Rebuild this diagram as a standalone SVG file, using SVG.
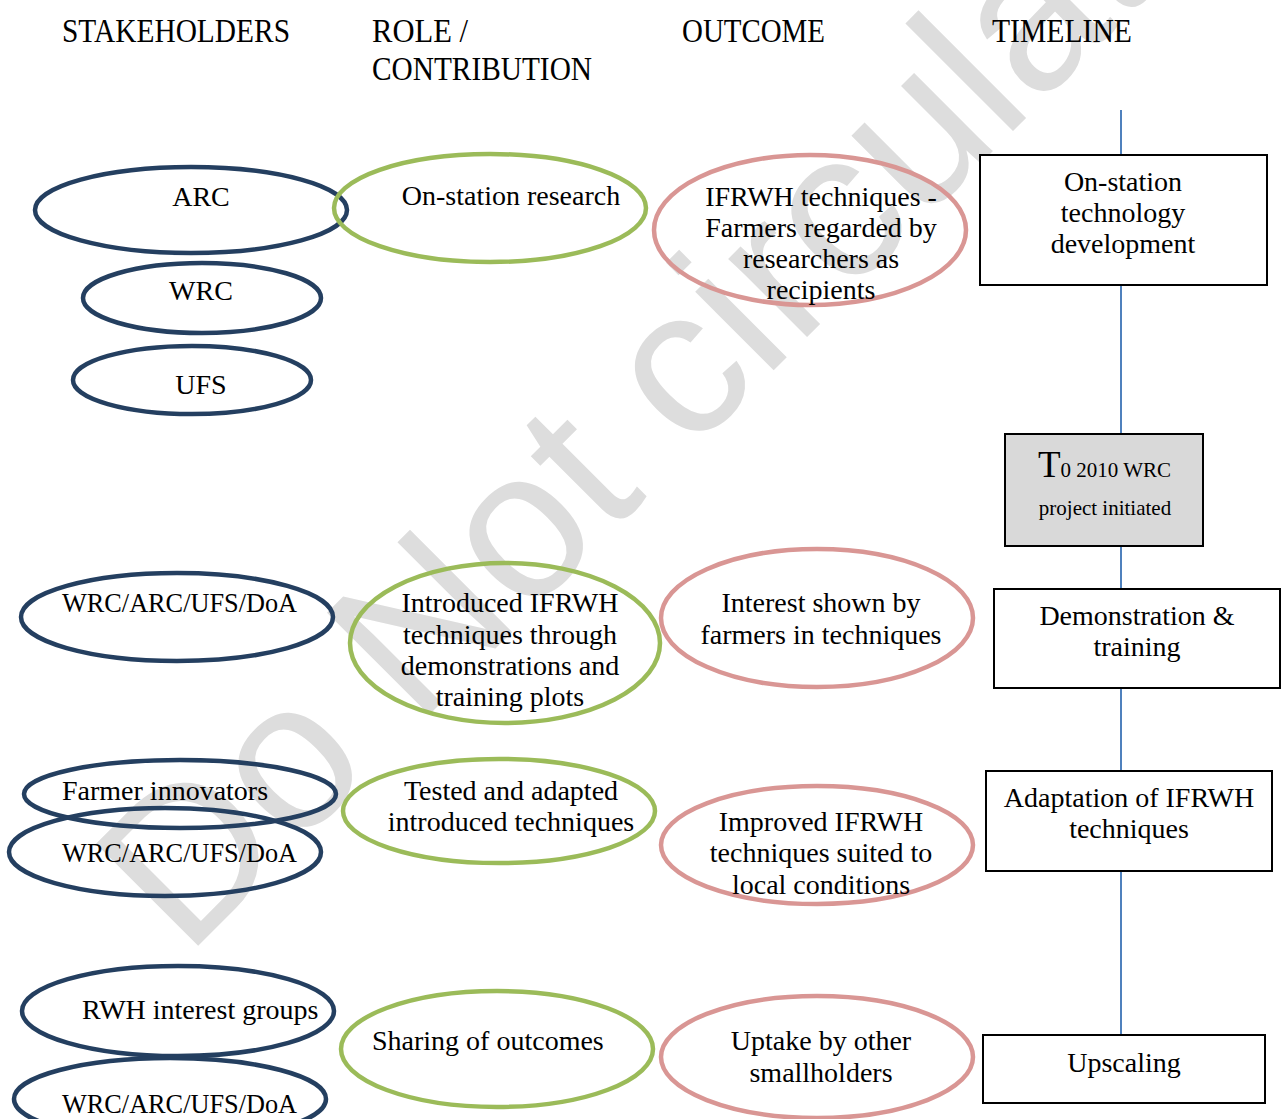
<svg xmlns="http://www.w3.org/2000/svg" width="1282" height="1119" viewBox="0 0 1282 1119">
  <style>
    text { font-family: "Liberation Serif", "DejaVu Serif", serif; fill: #000; }
    .hdr { font-size: 33px; }
    .lbl { font-size: 28px; }
    .mid { text-anchor: middle; }
    .stake { fill: none; stroke: #243f60; stroke-width: 4.5; }
    .role { fill: none; stroke: #9bbb59; stroke-width: 4.5; }
    .outc { fill: none; stroke: #d99694; stroke-width: 4.5; }
    .box { fill: #fff; stroke: #000; stroke-width: 2; }
    .wm { font-family: "Liberation Sans", Arial, sans-serif; font-size: 210px; fill: #dddddd; }
  </style>
  <rect width="1282" height="1119" fill="#fff"/>

  <!-- watermark -->
  <text class="wm" transform="translate(186,958) rotate(-45)">Do Not circulate</text>

  <!-- column headings -->
  <g id="headings">
    <text class="hdr" x="62" y="42" textLength="228" lengthAdjust="spacingAndGlyphs">STAKEHOLDERS</text>
    <text class="hdr" x="372" y="42" textLength="96" lengthAdjust="spacingAndGlyphs">ROLE /</text>
    <text class="hdr" x="372" y="80" textLength="220" lengthAdjust="spacingAndGlyphs">CONTRIBUTION</text>
    <text class="hdr" x="682" y="42" textLength="143" lengthAdjust="spacingAndGlyphs">OUTCOME</text>
    <text class="hdr" x="992" y="42" textLength="140" lengthAdjust="spacingAndGlyphs">TIMELINE</text>
  </g>

  <!-- timeline axis -->
  <g id="connectors">
    <line x1="1121" y1="110" x2="1121" y2="1035" stroke="#4f81bd" stroke-width="2"/>
  </g>

  <!-- stakeholders -->
  <g id="s-arc"><ellipse class="stake" cx="191" cy="210" rx="156" ry="43"/><text class="lbl mid" x="201" y="206">ARC</text></g>
  <g id="s-wrc"><ellipse class="stake" cx="202" cy="298" rx="119" ry="35"/><text class="lbl mid" x="201" y="300">WRC</text></g>
  <g id="s-ufs"><ellipse class="stake" cx="192" cy="380" rx="119" ry="34"/><text class="lbl mid" x="201" y="394">UFS</text></g>
  <g id="s-all1"><ellipse class="stake" cx="177" cy="617" rx="156" ry="44"/><text class="lbl" x="62" y="612" textLength="235" lengthAdjust="spacingAndGlyphs">WRC/ARC/UFS/DoA</text></g>
  <g id="s-farmers"><ellipse class="stake" cx="180" cy="794" rx="156" ry="34"/><text class="lbl" x="62" y="800">Farmer innovators</text></g>
  <g id="s-all2"><ellipse class="stake" cx="165" cy="852" rx="156" ry="44"/><text class="lbl" x="62" y="862" textLength="235" lengthAdjust="spacingAndGlyphs">WRC/ARC/UFS/DoA</text></g>
  <g id="s-rwh"><ellipse class="stake" cx="178" cy="1011" rx="156" ry="45"/><text class="lbl" x="82" y="1019">RWH interest groups</text></g>
  <g id="s-all3"><ellipse class="stake" cx="170" cy="1099" rx="156" ry="41"/><text class="lbl" x="62" y="1113" textLength="235" lengthAdjust="spacingAndGlyphs">WRC/ARC/UFS/DoA</text></g>

  <!-- roles -->
  <g id="r-research"><ellipse class="role" cx="490" cy="208" rx="156" ry="54"/><text class="lbl mid" x="511" y="205">On-station research</text></g>
  <g id="r-introduced"><ellipse class="role" cx="505" cy="643" rx="155" ry="80"/>
    <text class="lbl mid" x="510" y="612">Introduced IFRWH</text>
    <text class="lbl mid" x="510" y="644">techniques through</text>
    <text class="lbl mid" x="510" y="675">demonstrations and</text>
    <text class="lbl mid" x="510" y="706">training plots</text></g>
  <g id="r-tested"><ellipse class="role" cx="499" cy="811" rx="156" ry="52"/>
    <text class="lbl mid" x="511" y="800">Tested and adapted</text>
    <text class="lbl mid" x="511" y="831">introduced techniques</text></g>
  <g id="r-sharing"><ellipse class="role" cx="497" cy="1049" rx="156" ry="58"/><text class="lbl" x="372" y="1050">Sharing of outcomes</text></g>

  <!-- outcomes -->
  <g id="o-recipients"><ellipse class="outc" cx="810" cy="230" rx="156" ry="75"/>
    <text class="lbl mid" x="821" y="206">IFRWH techniques -</text>
    <text class="lbl mid" x="821" y="237">Farmers regarded by</text>
    <text class="lbl mid" x="821" y="268">researchers as</text>
    <text class="lbl mid" x="821" y="299">recipients</text></g>
  <g id="o-interest"><ellipse class="outc" cx="817" cy="618" rx="156" ry="69"/>
    <text class="lbl mid" x="821" y="612">Interest shown by</text>
    <text class="lbl mid" x="821" y="644">farmers in techniques</text></g>
  <g id="o-improved"><ellipse class="outc" cx="817" cy="845" rx="156" ry="59"/>
    <text class="lbl mid" x="821" y="831">Improved IFRWH</text>
    <text class="lbl mid" x="821" y="862">techniques suited to</text>
    <text class="lbl mid" x="821" y="894">local conditions</text></g>
  <g id="o-uptake"><ellipse class="outc" cx="817" cy="1057" rx="156" ry="61"/>
    <text class="lbl mid" x="821" y="1050">Uptake by other</text>
    <text class="lbl mid" x="821" y="1082">smallholders</text></g>

  <!-- timeline stages -->
  <g id="t-onstation"><rect class="box" x="980" y="155" width="287" height="130"/>
    <text class="lbl mid" x="1123" y="191">On-station</text>
    <text class="lbl mid" x="1123" y="222">technology</text>
    <text class="lbl mid" x="1123" y="253">development</text></g>
  <g id="t-start"><rect class="box" x="1005" y="434" width="198" height="112" style="fill:#d9d9d9"/>
    <text x="1038" y="477" style="font-size:37px">T<tspan style="font-size:21px">0 2010 WRC</tspan></text>
    <text class="mid" x="1105" y="515" style="font-size:21px">project initiated</text></g>
  <g id="t-demo"><rect class="box" x="994" y="589" width="286" height="99"/>
    <text class="lbl mid" x="1137" y="625">Demonstration &amp;</text>
    <text class="lbl mid" x="1137" y="656">training</text></g>
  <g id="t-adapt"><rect class="box" x="986" y="771" width="286" height="100"/>
    <text class="lbl mid" x="1129" y="807">Adaptation of IFRWH</text>
    <text class="lbl mid" x="1129" y="838">techniques</text></g>
  <g id="t-upscale"><rect class="box" x="983" y="1035" width="282" height="68"/>
    <text class="lbl mid" x="1124" y="1072">Upscaling</text></g>
</svg>
